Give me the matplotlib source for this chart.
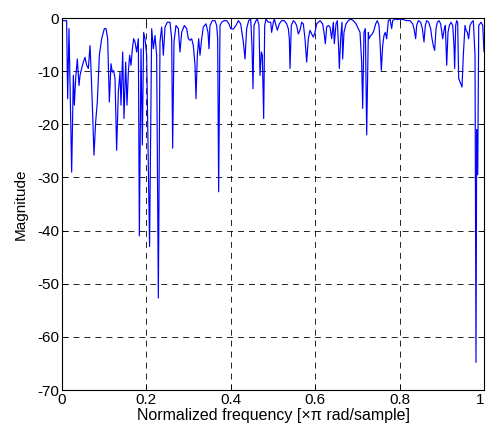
import matplotlib
matplotlib.use("Agg")
import matplotlib.pyplot as plt

plt.rcParams['font.family'] = ['Liberation Sans', 'DejaVu Sans']
plt.rcParams['axes.unicode_minus'] = False
plt.rcParams['lines.scale_dashes'] = False

freq = [0.0, 0.011, 0.0134, 0.0166, 0.0229, 0.0269, 0.0292, 0.0324, 0.0363, 0.0403,
        0.0427, 0.0466, 0.0506, 0.0545, 0.0585, 0.0624, 0.0664, 0.0687, 0.0719, 0.0758,
        0.0798, 0.0837, 0.0885, 0.094, 0.1003, 0.1043, 0.1082, 0.1122, 0.1161, 0.1193,
        0.1224, 0.1256, 0.1295, 0.1335, 0.1374, 0.1398, 0.1438, 0.1469, 0.1509, 0.154,
        0.1572, 0.1603, 0.1635, 0.1667, 0.1698, 0.173, 0.1769, 0.1809, 0.1833, 0.1872,
        0.1904, 0.1935, 0.1967, 0.2006, 0.2075, 0.2125, 0.2164, 0.2204, 0.2243, 0.2283,
        0.2322, 0.2362, 0.2401, 0.2441, 0.2496, 0.2559, 0.2599, 0.2622, 0.2654, 0.2701,
        0.2757, 0.2796, 0.2836, 0.2899, 0.2954, 0.2994, 0.3033, 0.3073, 0.3112, 0.3152,
        0.3175, 0.3207, 0.3239, 0.327, 0.331, 0.3349, 0.3412, 0.346, 0.3483, 0.3507,
        0.3562, 0.3626, 0.3665, 0.3689, 0.3712, 0.3744, 0.3784, 0.3839, 0.3902, 0.3957,
        0.3997, 0.406, 0.4123, 0.4179, 0.4234, 0.4297, 0.4336, 0.4376, 0.4423, 0.4471,
        0.4502, 0.4526, 0.455, 0.4597, 0.4629, 0.4668, 0.4692, 0.4724, 0.4747, 0.4779,
        0.4803, 0.4834, 0.489, 0.4945, 0.4968, 0.5008, 0.5032, 0.5071, 0.5103, 0.515,
        0.5205, 0.5269, 0.5324, 0.5363, 0.5387, 0.5403, 0.5434, 0.5482, 0.5521, 0.556,
        0.56, 0.564, 0.5679, 0.5718, 0.5758, 0.5798, 0.5837, 0.5877, 0.5916, 0.5956,
        0.5995, 0.6035, 0.6074, 0.6114, 0.6177, 0.6209, 0.624, 0.6272, 0.6311, 0.6351,
        0.639, 0.643, 0.6453, 0.6493, 0.6524, 0.6556, 0.6572, 0.6603, 0.6635, 0.6651,
        0.6682, 0.673, 0.6785, 0.6848, 0.6904, 0.6967, 0.7022, 0.7062, 0.7101, 0.7125,
        0.7156, 0.7188, 0.722, 0.7259, 0.7275, 0.7314, 0.7354, 0.7393, 0.7433, 0.7472,
        0.7512, 0.7536, 0.7567, 0.7599, 0.763, 0.7662, 0.7694, 0.7733, 0.7773, 0.7812,
        0.7836, 0.7891, 0.7946, 0.8009, 0.8088, 0.8167, 0.8246, 0.831, 0.8341, 0.8381,
        0.8404, 0.8444, 0.8499, 0.8539, 0.8578, 0.861, 0.8641, 0.8689, 0.8736, 0.8768,
        0.8799, 0.8831, 0.8863, 0.8894, 0.8934, 0.8973, 0.9021, 0.906, 0.9084, 0.9116,
        0.9147, 0.9179, 0.9218, 0.9258, 0.9289, 0.9305, 0.9329, 0.9352, 0.9376, 0.94,
        0.9431, 0.9479, 0.951, 0.955, 0.9573, 0.9605, 0.9637, 0.9668, 0.9708, 0.9747,
        0.9787, 0.981, 0.9827, 0.9851, 0.9875, 0.9929, 0.997, 1.0]

magnitude = [-0.5, -0.5, -15.2, -2.0, -29.0, -10.8, -16.4, -11.4, -7.7, -12.7,
             -10.8, -9.5, -8.3, -7.4, -8.9, -9.5, -5.2, -9.5, -16.4, -25.8,
             -19.5, -15.8, -7.0, -3.9, -2.0, -2.0, -3.9, -15.8, -8.6, -10.2,
             -9.9, -11.4, -24.9, -13.9, -10.2, -16.4, -6.4, -18.9, -8.3, -16.4,
             -10.2, -7.0, -8.9, -5.8, -3.9, -4.5, -6.4, -3.9, -41.0, -5.8,
             -23.9, -2.7, -3.9, -7.0, -43.0, -2.0, -5.8, -3.3, -7.0, -52.7,
             -4.5, -1.7, -7.0, -1.7, -0.8, -0.8, -3.9, -24.5, -4.5, -1.4,
             -2.0, -6.4, -2.7, -1.4, -2.0, -3.9, -4.2, -3.9, -5.2, -8.9,
             -15.2, -7.0, -3.9, -7.0, -3.9, -1.7, -1.1, -2.7, -5.8, -1.4,
             -0.5, -0.5, -1.4, -3.9, -32.7, -1.4, -0.8, -0.5, -0.5, -1.1,
             -2.0, -2.1, -1.4, -0.5, -1.1, -4.5, -7.7, -2.0, -0.5, -0.2,
             -5.2, -13.3, -1.4, -0.5, -0.2, -1.4, -10.8, -6.4, -7.0, -18.9,
             -1.4, -0.2, -0.8, -0.8, -2.7, -0.8, -0.2, -1.4, -2.3, -1.1,
             -0.5, -0.5, -1.1, -2.0, -3.9, -9.5, -1.4, -0.5, -0.8, -1.4,
             -3.0, -2.3, -0.8, -1.1, -3.9, -8.3, -3.9, -2.3, -3.0, -3.6,
             -2.7, -1.1, -0.8, -0.5, -1.1, -2.7, -4.85, -1.7, -1.4, -1.7,
             -3.9, -0.8, -4.85, -1.1, -0.5, -5.8, -9.5, -3.9, -0.8, -7.7,
             -2.7, -1.1, -0.5, -0.2, -0.5, -1.1, -2.0, -2.7, -8.3, -17.0,
             -2.7, -2.0, -22.0, -2.7, -3.9, -3.3, -3.0, -2.3, -1.1, -0.5,
             -1.4, -4.5, -9.85, -5.2, -3.3, -2.7, -3.9, -0.5, -0.2, -2.0,
             -0.5, -0.2, -0.3, -0.2, -0.3, -0.5, -0.5, -1.1, -2.0, -3.9,
             -1.4, -0.5, -0.8, -2.0, -4.5, -1.4, -0.5, -0.8, -2.0, -3.9,
             -5.2, -6.1, -2.0, -0.8, -0.5, -1.1, -3.9, -2.0, -1.4, -8.9,
             -2.7, -1.4, -0.8, -1.4, -5.2, -9.5, -1.4, -0.5, -0.8, -11.4,
             -12.0, -13.0, -7.0, -1.4, -2.3, -2.7, -3.9, -1.4, -0.8, -0.5,
             -7.0, -64.8, -21.0, -29.5, -1.4, -0.8, -1.4, -6.3]

xticks = [0, 0.2, 0.4, 0.6, 0.8, 1]
xticklabels = ['0', '0.2', '0.4', '0.6', '0.8', '1']
yticks = [-70, -60, -50, -40, -30, -20, -10, 0]
yticklabels = ['-70', '-60', '-50', '-40', '-30', '-20', '-10', '0']

fig = plt.figure(figsize=(4.86, 4.32), dpi=100)
ax = fig.add_axes([62/486, 1 - 390/432, 422/486, 372/432])
ax.plot(freq, magnitude, color=(0, 0, 1), lw=0.85)
ax.set_xlim(0, 1)
ax.set_ylim(-70, 0)
ax.set_xticks(xticks)
ax.set_xticklabels(xticklabels)
ax.set_yticks(yticks)
ax.set_yticklabels(yticklabels)
ax.grid(True, color='k', lw=0.6, linestyle=(0, (4.3, 3.6)))
ax.tick_params(direction='in', top=True, right=True, length=4, width=0.6,
               labelsize=11, pad=2)
ax.get_xticklabels()[-1].set_horizontalalignment('right')
for s in ax.spines.values():
    s.set_linewidth(0.8)
ax.set_xlabel('Normalized frequency [×π rad/sample]', fontsize=11.5, labelpad=1)
ax.set_ylabel('Magnitude', fontsize=11, labelpad=7)
fig.savefig('out.png', dpi=100)
